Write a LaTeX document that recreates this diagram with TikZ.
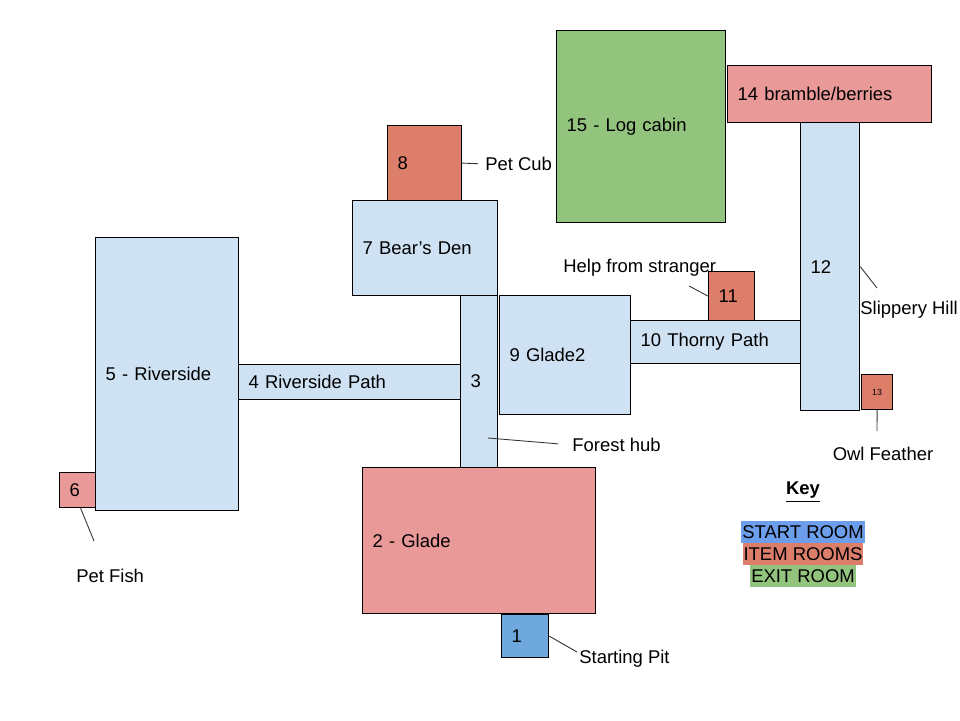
\documentclass[tikz,border=0pt]{standalone}
\usepackage{fontspec}
\setmainfont{Liberation Sans}
\usepackage{xcolor}
\usepackage{tikz}
\usetikzlibrary{positioning,calc}
\definecolor{hallblue}{HTML}{CFE2F3}
\definecolor{itempink}{HTML}{EA9999}
\definecolor{itemred}{HTML}{DD7E6B}
\definecolor{exitgreen}{HTML}{93C47D}
\definecolor{startblue}{HTML}{6FA8DC}
\definecolor{keyblue}{HTML}{6D9EEB}
\newcommand\mapfont{\fontsize{10.5}{12.6}\selectfont}
\tikzset{
  room/.style={draw=black, line width=0.7pt, anchor=north west, align=left,
               inner xsep=0.2cm, inner ysep=0pt, font=\mapfont},
  sz/.style 2 args={minimum width=#1cm, minimum height=#2cm,
                    /utils/exec={\pgfmathsetlengthmacro\roomtw{#1cm-0.4cm}},
                    text width=\roomtw},
  hall/.style={room, fill=hallblue},
  pinkroom/.style={room, fill=itempink},
  redroom/.style={room, fill=itemred},
  exitroom/.style={room, fill=exitgreen},
  startroom/.style={room, fill=startblue},
  lbl/.style={font=\mapfont, inner sep=0pt, anchor=west},
  lead/.style={draw=black!80, line width=0.5pt},
  keyitem/.style={font=\mapfont, inner xsep=0.5pt, inner ysep=0pt, minimum height=0.44cm}
}

\begin{document}
\begin{tikzpicture}[x=0.02cm, y=-0.02cm]
\useasboundingbox (0,0) rectangle (960,720);
% rooms
\node[exitroom, sz={3.38}{3.84}] (r15) at (556,30) {15 - Log cabin};
\node[pinkroom, sz={4.08}{1.14}] (r14) at (727,65) {14 bramble/berries};
\node[hall, sz={1.18}{5.76}] (r12) at (800,122) {12};
\node[redroom, minimum width=0.62cm, minimum height=0.70cm, inner sep=0pt,
      font=\fontsize{5}{6}\selectfont] (r13) at (861,374) {13};
\node[redroom, sz={0.92}{0.98}] (r11) at (708,271) {11};
\node[hall, sz={3.40}{0.86}] (r10) at (630,320) {10 Thorny Path};
\node[hall, sz={2.62}{2.38}] (r9) at (499,295) {9 Glade2};
\node[hall, sz={0.74}{3.44}] (r3) at (460,295) {3};
\node[hall, sz={2.90}{1.90}] (r7) at (352,200) {7 Bear’s Den};
\node[redroom, sz={1.48}{1.50}] (r8) at (387,125) {8};
\node[hall, sz={4.44}{0.70}] (r4) at (238,364) {4 Riverside Path};
\node[hall, sz={2.86}{5.46}] (r5) at (95,237) {5 - Riverside};
\node[pinkroom, sz={0.72}{0.70}] (r6) at (59,472) {6};
\node[pinkroom, sz={4.66}{2.92}] (r2) at (362,467) {2 - Glade};
\node[startroom, sz={0.94}{0.86}] (r1) at (501,614) {1};

% labels
\node[lbl] (cub) at (485,164) {Pet Cub};
\node[lbl] (stranger) at (563,268) {Help from stranger};
\node[lbl] (hill) at (860,310) {Slippery Hill};
\node[lbl, anchor=center] (owl) at (883,454) {Owl Feather};
\node[lbl] (hub) at (572,445) {Forest hub};
\node[lbl] (fish) at (76,576) {Pet Fish};
\node[lbl] (pit) at (579,659) {Starting Pit};

% leader lines
\coordinate (c11) at (689,286);
\coordinate (c12) at (877,288);
\coordinate (c13) at (877,431);
\coordinate (c3) at (488,438);
\coordinate (c6) at (94,541);
\coordinate (c1) at (577,652);
\draw[lead, shorten >=7*0.02cm] (r8.east) -- (cub.west);
\draw[lead] (c11) -- (r11.west);
\draw[lead] (r12.east) -- (c12);
\draw[lead] (r13.south) -- (c13);
\draw[lead, shorten >=14*0.02cm] (c3) -- (hub.west);
\draw[lead] ([xshift=3*0.02cm]r6.south) -- (c6);
\draw[lead] (r1.east) -- (c1);

% key
\node[font=\mapfont\bfseries] (keyhead) at (803,492) {\underline{Key}};
\node[keyitem, fill=keyblue] (kstart) at (803,532) {START ROOM};
\node[keyitem, fill=itemred] (kitem) at (803,554) {ITEM ROOMS};
\node[keyitem, fill=exitgreen] (kexit) at (803,576) {EXIT ROOM};
\end{tikzpicture}
\end{document}
